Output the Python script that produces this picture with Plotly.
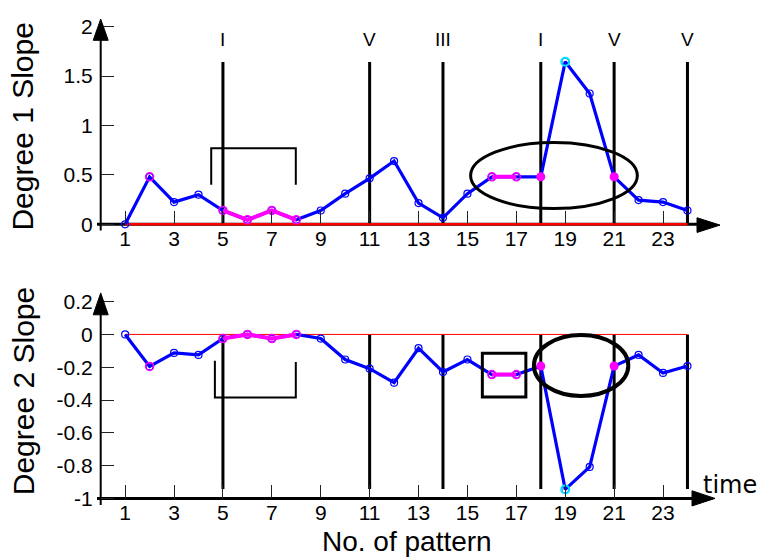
import plotly.graph_objects as go

# ---------------- data ----------------
patterns = list(range(1, 25))
deg1_slope = [0.0, 0.48, 0.225, 0.30, 0.14, 0.045, 0.14, 0.045, 0.14, 0.31, 0.465, 0.64,
              0.215, 0.066, 0.31, 0.48, 0.48, 0.48, 1.645, 1.323, 0.48, 0.245, 0.225, 0.14]
deg2_slope = [0.0, -0.195, -0.113, -0.125, -0.025, 0.0, -0.025, 0.0, -0.025, -0.153, -0.209, -0.294,
              -0.084, -0.229, -0.153, -0.245, -0.245, -0.193, -0.945, -0.808, -0.193, -0.125, -0.235, -0.193]
magenta_runs = [[5, 6, 7, 8], [16, 17]]
magenta_open = [2, 5, 6, 7, 8, 16, 17]
magenta_filled = [18, 21]
cyan_points = [19]
event_x = [5, 11, 14, 18, 21, 24]
event_labels = ["I", "V", "III", "I", "V", "V"]
event_top1 = 1.643
event_bot2 = -0.942
xtick_vals = list(range(1, 24, 2))
ytick1 = [0, 0.5, 1, 1.5, 2]
ytick1_text = ["0", "0.5", "1", "1.5", "2"]
ytick2 = [0.2, 0, -0.2, -0.4, -0.6, -0.8, -1]
ytick2_text = ["0.2", "0", "-0.2", "-0.4", "-0.6", "-0.8", "-1"]
bracket1_x = [4.52, 4.52, 7.98, 7.98]
bracket1_y = [0.40, 0.77, 0.77, 0.40]
bracket2_x = [4.67, 4.67, 7.98, 7.98]
bracket2_y = [-0.16, -0.384, -0.384, -0.168]
ellipse1 = dict(x0=15.13, x1=21.95, y0=0.159, y1=0.827)
ellipse2 = dict(x0=17.72, x1=21.58, y0=-0.375, y1=-0.004)
square2 = dict(x0=15.61, x1=17.39, y0=-0.382, y1=-0.115)

# ---------------- layout geometry ----------------
W, H = 759, 559
def fx(px): return px / W
def fy(py): return 1 - py / H

XRANGE = [0, 25.4]
XDOM = [fx(100.7), fx(721.7)]
Y1RANGE = [-0.06, 2.06]
Y1DOM = [fy(228.75), fy(14.95)]
Y2RANGE = [-1.04, 0.25]
Y2DOM = [fy(509.0), fy(293.2)]

BLUE = "#0000ff"
MAG = "#ff00ff"
SANS = "Liberation Sans, Arial, sans-serif"
TICKFONT = dict(family=SANS, size=21, color="black")

fig = go.Figure()

def val(xs, ys, sel):
    return [ys[xs.index(s)] for s in sel]

def add_panel(ys, xa, ya, top_of_lines, bot_of_lines, red_w, bx, by):
    # vertical event lines
    vx, vy = [], []
    for e in event_x:
        vx += [e, e, None]
        vy += [bot_of_lines, top_of_lines, None]
    fig.add_trace(go.Scatter(x=vx, y=vy, mode="lines", line=dict(color="black", width=3),
                             xaxis=xa, yaxis=ya, showlegend=False, hoverinfo="skip"))
    # red zero line
    fig.add_trace(go.Scatter(x=[patterns[0], patterns[-1]], y=[0, 0], mode="lines",
                             line=dict(color="red", width=red_w), xaxis=xa, yaxis=ya,
                             showlegend=False, hoverinfo="skip"))
    # bracket
    fig.add_trace(go.Scatter(x=bx, y=by, mode="lines", line=dict(color="black", width=2),
                             xaxis=xa, yaxis=ya, showlegend=False, hoverinfo="skip"))
    # main blue series
    fig.add_trace(go.Scatter(x=patterns, y=ys, mode="lines+markers",
                             line=dict(color=BLUE, width=3.2),
                             marker=dict(symbol="circle-open", size=7, color=BLUE, line=dict(width=1.2)),
                             xaxis=xa, yaxis=ya, showlegend=False, cliponaxis=False))
    # magenta runs
    mx, my = [], []
    for run in magenta_runs:
        mx += run + [None]
        my += val(patterns, ys, run) + [None]
    fig.add_trace(go.Scatter(x=mx, y=my, mode="lines", line=dict(color=MAG, width=4),
                             xaxis=xa, yaxis=ya, showlegend=False))
    fig.add_trace(go.Scatter(x=magenta_open, y=val(patterns, ys, magenta_open), mode="markers",
                             marker=dict(symbol="circle-open", size=8, color=MAG, line=dict(width=1.5)),
                             xaxis=xa, yaxis=ya, showlegend=False))
    fig.add_trace(go.Scatter(x=magenta_filled, y=val(patterns, ys, magenta_filled), mode="markers",
                             marker=dict(symbol="circle", size=9, color=MAG),
                             xaxis=xa, yaxis=ya, showlegend=False))
    fig.add_trace(go.Scatter(x=cyan_points, y=val(patterns, ys, cyan_points), mode="markers",
                             marker=dict(symbol="circle-open", size=8, color="#00e5ff", line=dict(width=2)),
                             xaxis=xa, yaxis=ya, showlegend=False, cliponaxis=False))

add_panel(deg1_slope, "x", "y", event_top1, 0, 2.6, bracket1_x, bracket1_y)
add_panel(deg2_slope, "x2", "y2", 0, event_bot2, 1, bracket2_x, bracket2_y)

# roman numeral labels
for e, lab in zip(event_x, event_labels):
    fig.add_annotation(x=e, y=1.87, xref="x", yref="y", text=lab, showarrow=False,
                       font=dict(family=SANS, size=19, color="black"),
                       xanchor="center", yanchor="middle")

shapes = []
# ellipses and square
shapes.append(dict(type="circle", xref="x", yref="y", line=dict(color="black", width=3), **ellipse1))
shapes.append(dict(type="circle", xref="x2", yref="y2", line=dict(color="black", width=4), **ellipse2))
shapes.append(dict(type="rect", xref="x2", yref="y2", line=dict(color="black", width=3), **square2))

# axis lines (paper coords) and arrowheads
def line(x0, y0, x1, y1, w):
    return dict(type="line", xref="paper", yref="paper", x0=fx(x0), y0=fy(y0), x1=fx(x1), y1=fy(y1),
                line=dict(color="black", width=w), layer="below")
def tri(tip, b1, b2):
    p = "M {} {} L {} {} L {} {} Z".format(fx(tip[0]), fy(tip[1]), fx(b1[0]), fy(b1[1]), fx(b2[0]), fy(b2[1]))
    return dict(type="path", xref="paper", yref="paper", path=p, fillcolor="black",
                line=dict(color="black", width=1))

# top panel
shapes.append(line(97, 222.7, 700, 222.7, 3))
shapes.append(line(100.7, 229, 100.7, 25, 2))
shapes.append(tri((720, 223.5), (697, 216), (697, 231)))
shapes.append(tri((100.7, 13.3), (93.2, 35), (108.2, 35)))
# bottom panel
shapes.append(line(97, 502.3, 695, 502.3, 3))
shapes.append(line(100.7, 509, 100.7, 305, 2))
shapes.append(tri((715, 502.3), (692, 494.5), (692, 510)))
shapes.append(tri((100.7, 292.7), (93.2, 315), (108.2, 315)))

# axis titles
fig.add_annotation(x=fx(23), y=fy(123), xref="paper", yref="paper", text="Degree 1 Slope",
                   textangle=-90, showarrow=False, xanchor="center", yanchor="middle",
                   font=dict(family=SANS, size=30, color="black"))
fig.add_annotation(x=fx(23), y=fy(393), xref="paper", yref="paper", text="Degree 2 Slope",
                   textangle=-90, showarrow=False, xanchor="center", yanchor="middle",
                   font=dict(family=SANS, size=30, color="black"))
fig.add_annotation(x=fx(407), y=fy(546), xref="paper", yref="paper", text="No. of pattern",
                   showarrow=False, xanchor="center", yanchor="middle",
                   font=dict(family=SANS, size=28, color="black"))
fig.add_annotation(x=fx(701), y=fy(489), xref="paper", yref="paper", text="time",
                   showarrow=False, xanchor="left", yanchor="middle",
                   font=dict(family="DejaVu Sans, sans-serif", size=24, color="black"))

xcommon = dict(range=XRANGE, domain=XDOM, anchor="free", showline=False, showgrid=False, zeroline=False,
               ticks="inside", ticklen=13, tickwidth=1.3, tickcolor="#222", tickvals=xtick_vals,
               tickfont=TICKFONT, fixedrange=True)
ycommon = dict(showline=False, showgrid=False, zeroline=False, ticks="inside", ticklen=13, tickwidth=1.3,
               tickcolor="#222", tickfont=TICKFONT, ticklabelstandoff=7, fixedrange=True)

fig.update_layout(
    width=W, height=H,
    margin=dict(l=0, r=0, t=0, b=0),
    paper_bgcolor="white", plot_bgcolor="rgba(0,0,0,0)",
    showlegend=False,
    xaxis=dict(**xcommon, position=fy(222.7)),
    yaxis=dict(**ycommon, range=Y1RANGE, domain=Y1DOM, anchor="x", tickvals=ytick1, ticktext=ytick1_text),
    xaxis2=dict(**xcommon, position=fy(502.3)),
    yaxis2=dict(**ycommon, range=Y2RANGE, domain=Y2DOM, anchor="x2", tickvals=ytick2, ticktext=ytick2_text),
    shapes=shapes,
)

fig.write_html("out.html")
